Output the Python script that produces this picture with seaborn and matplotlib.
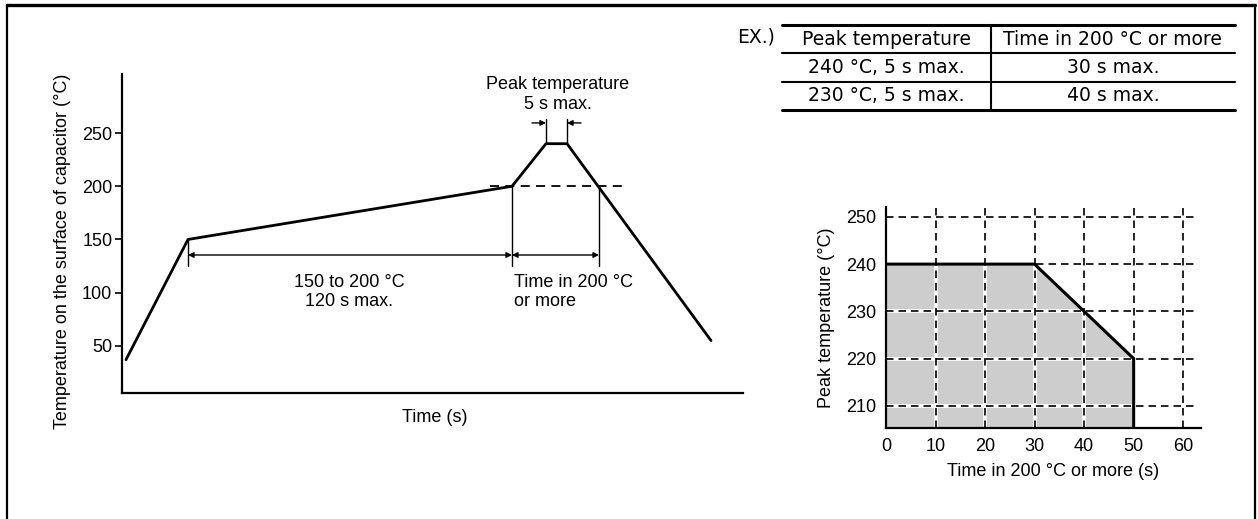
import numpy as np
import pandas as pd
import seaborn as sns
import matplotlib.pyplot as plt
from matplotlib.lines import Line2D

sns.set_theme(style="white")
plt.rcParams['font.family'] = ['Liberation Sans', 'DejaVu Sans']
plt.rcParams['font.size'] = 13
plt.rcParams['text.color'] = 'black'
plt.rcParams['axes.labelcolor'] = 'black'

# reflow profile (time axis is schematic, no units shown)
profile_time = [4, 66, 390, 424, 445, 589]
profile_temp = [37, 150, 200, 240, 240, 55]
temp_ticks = [50, 100, 150, 200, 250]

# peak temperature vs. time in 200 °C or more
limit_time = [0, 30, 40, 50, 50]
limit_temp = [240, 240, 230, 220, 205.3]
limit_xticks = [0, 10, 20, 30, 40, 50, 60]
limit_yticks = [210, 220, 230, 240, 250]

table_header = ['Peak temperature', 'Time in 200 °C or more']
table_rows = [['240 °C, 5 s max.', '30 s max.'],
              ['230 °C, 5 s max.', '40 s max.']]

W, H = 1258, 519
FS = 13
fig = plt.figure(figsize=(W / 100, H / 100), dpi=100)


def px_box(x0, y0, x1, y1):
    # axes rectangle from pixel corners (origin top-left)
    return [x0 / W, 1 - y1 / H, (x1 - x0) / W, (y1 - y0) / H]


def style_spines(ax, lw=1.6):
    for s in ['top', 'right']:
        ax.spines[s].set_visible(False)
    for s in ['left', 'bottom']:
        ax.spines[s].set_color('black')
        ax.spines[s].set_linewidth(lw)


# --- left: reflow profile ---
ax = fig.add_axes(px_box(122, 74, 743, 393))
sns.lineplot(x=profile_time, y=profile_temp, ax=ax, color='black', lw=2,
             sort=False, estimator=None)
ax.set_xlim(0, 621)
ax.set_ylim(5.7, 305.5)
ax.set_xticks([])
ax.set_yticks(temp_ticks)
ax.tick_params(axis='y', left=True, direction='out', length=5, width=1.2,
               pad=2, colors='black', labelsize=FS)
style_spines(ax)

t_150, t_200, t_pk1, t_pk2, t_down = 66, 390, 424, 445, 477
ax.plot([368, 501], [200, 200], color='black', lw=1.3, ls=(0, (5, 3.5)))
for t, top in [(t_150, 150), (t_200, 200), (t_down, 200)]:
    ax.plot([t, t], [top, 125], color='black', lw=1)
arr = dict(arrowstyle='<|-|>', color='black', lw=1, mutation_scale=8,
           shrinkA=0, shrinkB=0)
ax.annotate('', xy=(t_200, 135.4), xytext=(t_150, 135.4), arrowprops=arr)
ax.annotate('', xy=(t_down, 135.4), xytext=(t_200, 135.4), arrowprops=arr)

for t in [t_pk1, t_pk2]:
    ax.plot([t, t], [240, 263], color='black', lw=1)
one = dict(arrowstyle='-|>', color='black', lw=1, mutation_scale=8,
           shrinkA=0, shrinkB=0)
ax.annotate('', xy=(t_pk1, 259.5), xytext=(410, 259.5), arrowprops=one)
ax.annotate('', xy=(t_pk2, 259.5), xytext=(459, 259.5), arrowprops=one)

ax.text(436, 286, 'Peak temperature\n5 s max.', ha='center', va='center', fontsize=FS)
ax.text(227, 100.7, '150 to 200 °C\n120 s max.', ha='center', va='center', fontsize=FS)
ax.text(392, 100.7, 'Time in 200 °C\nor more', ha='left', va='center', fontsize=FS)

ax.set_xlabel('Time (s)', fontsize=FS)
ax.xaxis.set_label_coords(0.504, -0.05)
ax.set_ylabel('Temperature on the surface of capacitor (°C)', fontsize=FS)
ax.yaxis.set_label_coords(-0.082, 0.4436)

# --- right: allowable peak temperature ---
ax2 = fig.add_axes(px_box(886, 207, 1201, 428))
y_lo, y_hi = 205.3, 252.1
ax2.fill_between(limit_time, limit_temp, y_lo, color='#cdcdcd', lw=0, zorder=1)
dash = (0, (4.5, 3))
for x in limit_xticks[1:]:
    ax2.plot([x, x], [y_lo, y_hi], color='white', lw=2.6, zorder=2)
    ax2.plot([x, x], [y_lo, y_hi], color='black', lw=1.2, ls=dash, zorder=3)
for y in limit_yticks:
    ax2.plot([0, 62.5], [y, y], color='white', lw=2.6, zorder=2)
    ax2.plot([0, 62.5], [y, y], color='black', lw=1.2, ls=dash, zorder=3)
sns.lineplot(x=limit_time, y=limit_temp, ax=ax2, color='black', lw=2.2,
             sort=False, estimator=None, zorder=4)
ax2.set_xlim(0, 63.6)
ax2.set_ylim(y_lo, y_hi)
ax2.set_xticks(limit_xticks)
ax2.set_yticks(limit_yticks)
ax2.tick_params(length=0, pad=7, colors='black', labelsize=FS)
style_spines(ax2)
for s in ['left', 'bottom']:
    ax2.spines[s].set_zorder(5)
ax2.set_xlabel('Time in 200 °C or more (s)', fontsize=FS)
ax2.xaxis.set_label_coords(0.53, -0.158)
ax2.set_ylabel('Peak temperature (°C)', fontsize=FS)
ax2.yaxis.set_label_coords(-0.162, 0.5)

# --- example table ---
tab = fig.add_axes(px_box(782, 25, 1235, 110))
tab.axis('off')
tab.set_xlim(0, 1)
tab.set_ylim(3, 0)
col_sep = 0.461
for y, lw in [(0, 2.2), (1, 1.5), (2, 1.5), (3, 2.2)]:
    tab.plot([0, 1], [y, y], color='black', lw=lw, clip_on=False)
tab.plot([col_sep, col_sep], [0, 3], color='black', lw=1.5, clip_on=False)
col_x = [col_sep / 2, (1 + col_sep) / 2]
tfont = dict(family='DejaVu Sans', fontsize=13.5, color='black')
for r, row in enumerate([table_header] + table_rows):
    for c, txt in enumerate(row):
        tab.text(col_x[c], r + 0.5, txt, ha='center', va='center', **tfont)
tab.text(-0.099, 0.42, 'EX.)', ha='left', va='center', **tfont)

# outer frame (bottom edge is cut off in the original)
frame = dict(color='black', transform=fig.transFigure)
fig.add_artist(Line2D([7 / W, 1255 / W], [1 - 5 / H, 1 - 5 / H], lw=2.4, **frame))
fig.add_artist(Line2D([7 / W, 7 / W], [0, 1 - 5 / H], lw=1.6, **frame))
fig.add_artist(Line2D([1255 / W, 1255 / W], [0, 1 - 5 / H], lw=1.6, **frame))

fig.savefig('out.png', dpi=100)
